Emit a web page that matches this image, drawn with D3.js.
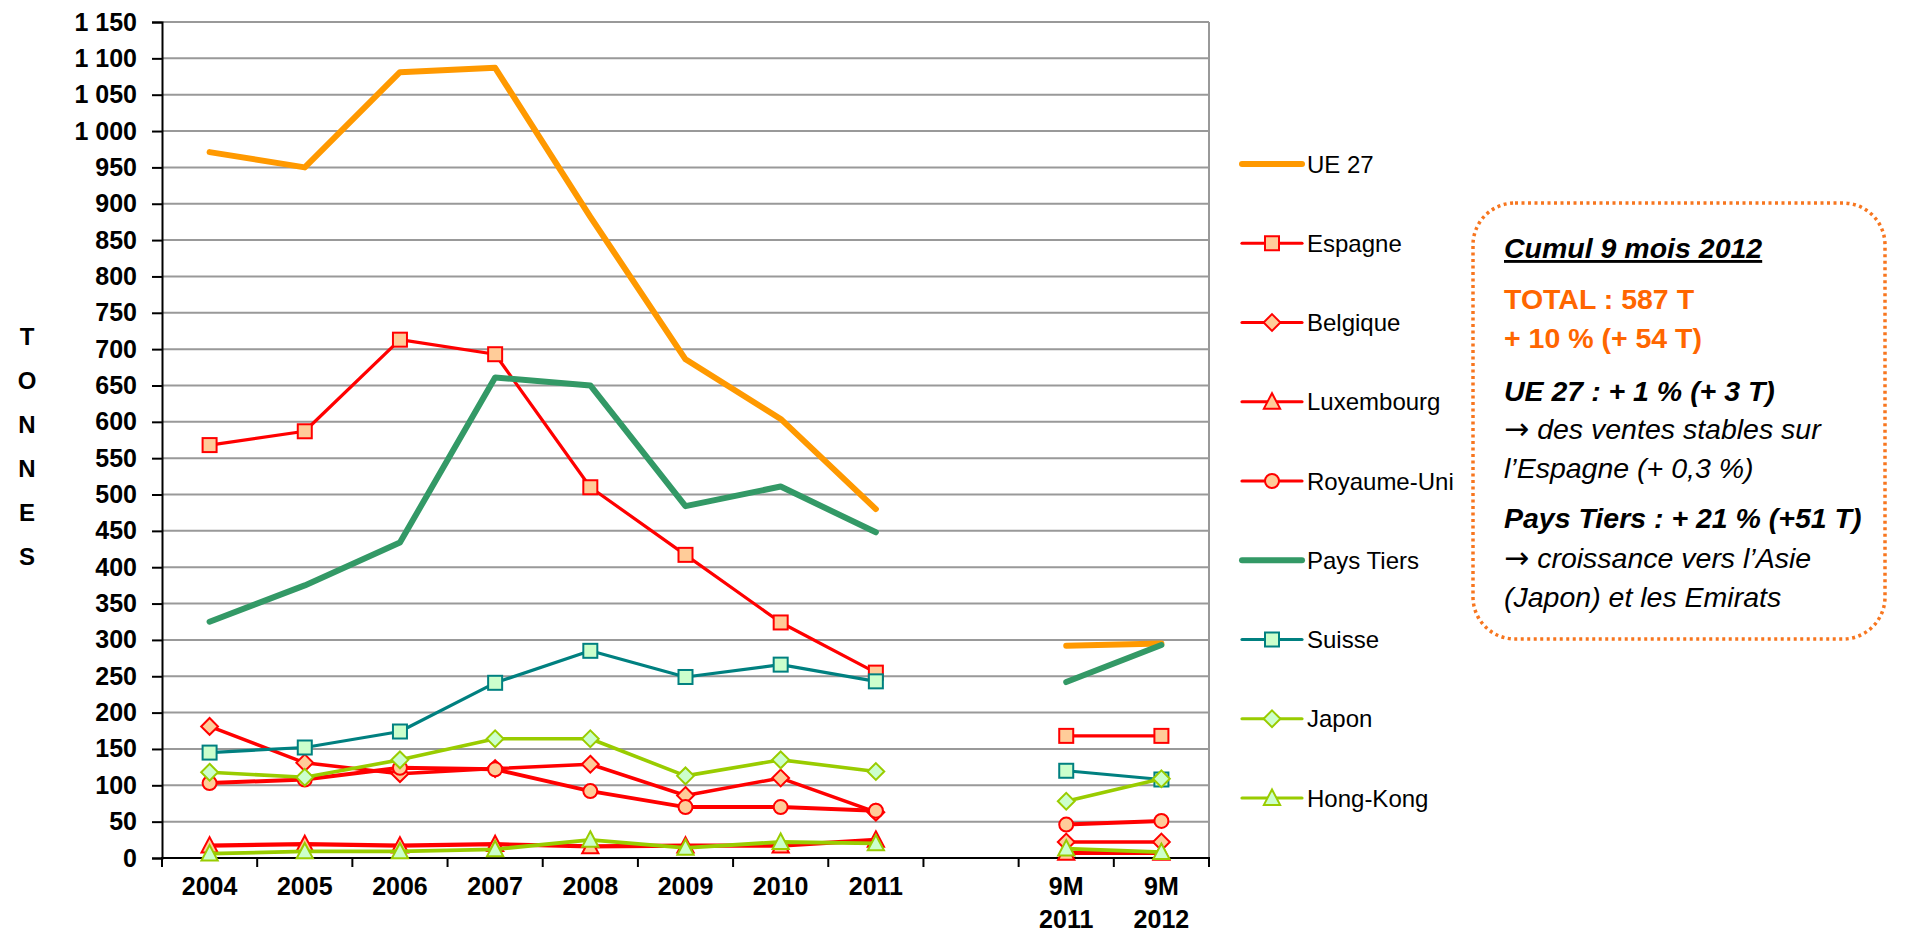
<!DOCTYPE html>
<html>
<head>
<meta charset="utf-8">
<script src="https://cdn.jsdelivr.net/npm/d3@7"></script>
<style>
  body { margin: 0; background: #fff; }
  svg { display: block; font-family: 'Liberation Sans', Arial, sans-serif; }
</style>
</head>
<body>
<div class="chart"></div>
<script>
'use strict'
// categories (the empty one is the gap between 2011 and the 9 month figures)
var categories = ['2004', '2005', '2006', '2007', '2008', '2009', '2010', '2011', '', '9M 2011', '9M 2012']
var yTicks = d3.range(0, 1151, 50)

// tonnes
var ue27 = [971, 950, 1081, 1087, 882, 686, 604, 480, null, 292, 295]
var espagne = [568, 587, 713, 693, 510, 417, 324, 255, null, 168, 168]
var belgique = [181, 131, 116, 123, 129, 86, 110, 63, null, 22, 22]
var luxembourg = [17, 19, 17, 19, 16, 17, 17, 25, null, 7, 7]
var royaumeUni = [103, 108, 124, 122, 92, 70, 70, 65, null, 46, 51]
var paysTiers = [325, 375, 434, 661, 650, 484, 511, 448, null, 242, 293]
var suisse = [145, 152, 174, 241, 285, 249, 266, 243, null, 120, 108]
var japon = [118, 111, 135, 164, 164, 113, 135, 119, null, 78, 109]
var hongKong = [6, 9, 9, 12, 25, 14, 22, 20, null, 13, 8]

// text of the note box; arrow lines get a separate arrow glyph
var noteLines = [
  { text: 'Cumul 9 mois 2012', cls: 'bi u' },
  { text: 'TOTAL : 587 T', cls: 'b o' },
  { text: '+ 10 % (+ 54 T)', cls: 'b o' },
  { text: 'UE 27 : + 1 % (+ 3 T)', cls: 'bi' },
  { text: 'des ventes stables sur', cls: 'i a' },
  { text: 'l\u2019Espagne (+ 0,3 %)', cls: 'i' },
  { text: 'Pays Tiers : + 21 % (+51 T)', cls: 'bi' },
  { text: 'croissance vers l\u2019Asie', cls: 'i a' },
  { text: '(Japon) et les Emirats', cls: 'i' }
]

var RED = '#ff0000'
var PEACH = '#ffcc99'
var MINT = '#ccffcc'
var LIME = '#99cc00'
var series = [
  { name: 'UE 27', values: ue27, color: '#ff9900', width: 6, marker: null },
  { name: 'Espagne', values: espagne, color: RED, width: 3.2, marker: 'square', fill: PEACH },
  { name: 'Belgique', values: belgique, color: RED, width: 3.5, marker: 'diamond', fill: PEACH },
  { name: 'Luxembourg', values: luxembourg, color: RED, width: 4.2, marker: 'triangle', fill: PEACH },
  { name: 'Royaume-Uni', values: royaumeUni, color: RED, width: 4, marker: 'circle', fill: PEACH },
  { name: 'Pays Tiers', values: paysTiers, color: '#339966', width: 6, marker: null },
  { name: 'Suisse', values: suisse, color: '#008080', width: 3.2, marker: 'square', fill: MINT },
  { name: 'Japon', values: japon, color: LIME, width: 3.6, marker: 'diamond', fill: MINT },
  { name: 'Hong-Kong', values: hongKong, color: LIME, width: 3.8, marker: 'triangle', fill: MINT }
]

var width = 1905
var height = 933
var plotLeft = 162
var plotRight = 1209
var plotTop = 22
var plotBottom = 858

var svg = d3.select('.chart').append('svg')
  .attr('width', width)
  .attr('height', height)

var x = d3.scaleBand().domain(d3.range(categories.length)).range([plotLeft, plotRight]).padding(0)
var bw = x.bandwidth()
var cx = function (i) { return x(i) + bw / 2 }
var y = d3.scaleLinear().domain([0, 1150]).range([plotBottom, plotTop])

var fmt = d3.formatLocale({ decimal: ',', thousands: ' ', grouping: [3], currency: ['', ''] }).format(',d')

// gridlines
svg.append('g').selectAll('line')
  .data(yTicks.filter(function (d) { return d > 0 }))
  .enter().append('line')
  .attr('x1', plotLeft).attr('x2', plotRight)
  .attr('y1', function (d) { return y(d) }).attr('y2', function (d) { return y(d) })
  .attr('stroke', '#999').attr('stroke-width', 2)

// right border of plot area
svg.append('line')
  .attr('x1', plotRight).attr('x2', plotRight).attr('y1', plotTop).attr('y2', plotBottom)
  .attr('stroke', '#999').attr('stroke-width', 2)

// y axis
var yAxis = svg.append('g')
  .attr('transform', 'translate(' + plotLeft + ',0)')
  .call(d3.axisLeft(y).tickValues(yTicks).tickSize(10).tickPadding(15).tickFormat(fmt))
yAxis.select('.domain').attr('stroke', '#000').attr('stroke-width', 2)
yAxis.selectAll('.tick line').attr('stroke', '#000').attr('stroke-width', 2)
yAxis.selectAll('.tick text')
  .attr('fill', '#000')
  .style('font-family', "'Liberation Sans', Arial, sans-serif")
  .style('font-size', '25px').style('font-weight', 'bold')

// x axis: line, ticks at band edges, labels centred in the bands
var xAxis = svg.append('g')
xAxis.append('line')
  .attr('x1', plotLeft - 1).attr('x2', plotRight + 1).attr('y1', plotBottom).attr('y2', plotBottom)
  .attr('stroke', '#000').attr('stroke-width', 2)
xAxis.selectAll('.edge')
  .data(d3.range(categories.length + 1))
  .enter().append('line')
  .attr('class', 'edge')
  .attr('x1', function (i) { return plotLeft + i * x.step() })
  .attr('x2', function (i) { return plotLeft + i * x.step() })
  .attr('y1', plotBottom).attr('y2', plotBottom + 9)
  .attr('stroke', '#000').attr('stroke-width', 2)
var xLabels = xAxis.selectAll('.lbl')
  .data(categories)
  .enter().append('text')
  .attr('class', 'lbl')
  .attr('text-anchor', 'middle')
  .attr('y', 895)
  .style('font-size', '25px').style('font-weight', 'bold')
xLabels.each(function (d, i) {
  var t = d3.select(this)
  d.split(' ').forEach(function (part, j) {
    t.append('tspan').attr('x', cx(i)).attr('dy', j === 0 ? 0 : 33).text(part)
  })
})

// vertical axis title
svg.append('g').selectAll('text')
  .data('TONNES'.split(''))
  .enter().append('text')
  .attr('x', 27)
  .attr('y', function (d, i) { return 345 + i * 44 })
  .attr('text-anchor', 'middle')
  .style('font-size', '24px').style('font-weight', 'bold')
  .text(function (d) { return d })

// marker shapes
var drawMarker = function (sel, type, s, fill, color) {
  var p
  if (type === 'square') {
    p = sel.append('rect').attr('x', -s / 2).attr('y', -s / 2).attr('width', s).attr('height', s)
  } else if (type === 'circle') {
    p = sel.append('circle').attr('r', s / 2)
  } else if (type === 'diamond') {
    var h = s * 0.6
    p = sel.append('path').attr('d', 'M0,' + -h + 'L' + h + ',0L0,' + h + 'L' + -h + ',0Z')
  } else if (type === 'triangle') {
    var t = s * 0.58
    p = sel.append('path').attr('d', 'M0,' + (-t * 1.05) + 'L' + t + ',' + t * 0.85 + 'L' + -t + ',' + t * 0.85 + 'Z')
  }
  if (p) p.attr('fill', fill).attr('stroke', color).attr('stroke-width', 2)
}

var line = d3.line()
  .defined(function (d) { return d != null })
  .x(function (d, i) { return cx(i) })
  .y(function (d) { return y(d) })

var plot = svg.append('g')
series.forEach(function (s) {
  var g = plot.append('g')
  g.append('path')
    .attr('d', line(s.values))
    .attr('fill', 'none')
    .attr('stroke', s.color)
    .attr('stroke-width', s.width)
    .attr('stroke-linecap', 'round')
    .attr('stroke-linejoin', 'round')
  if (s.marker) {
    g.selectAll('.m')
      .data(s.values.map(function (v, i) { return { v: v, i: i } }).filter(function (d) { return d.v != null }))
      .enter().append('g')
      .attr('class', 'm')
      .attr('transform', function (d) { return 'translate(' + cx(d.i) + ',' + y(d.v) + ')' })
      .each(function () { drawMarker(d3.select(this), s.marker, 14, s.fill, s.color) })
  }
})

// legend
var legend = svg.append('g').selectAll('g')
  .data(series)
  .enter().append('g')
  .attr('transform', function (d, i) { return 'translate(1242,' + (164 + i * 79.25) + ')' })
legend.append('line')
  .attr('x1', 0).attr('x2', 60)
  .attr('stroke', function (d) { return d.color })
  .attr('stroke-width', function (d) { return d.marker ? 3.2 : 6 })
  .attr('stroke-linecap', 'round')
legend.each(function (d) {
  if (d.marker) {
    var m = d3.select(this).append('g').attr('transform', 'translate(30,0)')
    drawMarker(m, d.marker, 14, d.fill, d.color)
  }
})
legend.append('text')
  .attr('x', 65)
  .attr('dy', '0.36em')
  .style('font-size', '24px')
  .text(function (d) { return d.name })

// note box
var note = svg.append('g')
note.append('rect')
  .attr('x', 1473).attr('y', 203)
  .attr('width', 412).attr('height', 436)
  .attr('rx', 42).attr('ry', 42)
  .attr('fill', 'none')
  .attr('stroke', '#f7761f')
  .attr('stroke-width', 3.5)
  .attr('stroke-dasharray', '3 3.5')
var noteY = [258, 309, 348, 401, 439, 478, 528, 568, 607]
var noteText = note.selectAll('text')
  .data(noteLines)
  .enter().append('text')
  .attr('x', 1504)
  .attr('y', function (d, i) { return noteY[i] })
  .style('font-size', '28.5px')
  .style('font-weight', function (d) { return d.cls.indexOf('b') !== -1 ? 'bold' : 'normal' })
  .style('font-style', function (d) { return d.cls.indexOf('i') !== -1 ? 'italic' : 'normal' })
  .style('text-decoration', function (d) { return d.cls.indexOf('u') !== -1 ? 'underline' : 'none' })
  .attr('fill', function (d) { return d.cls.indexOf('o') !== -1 ? '#ff6600' : '#000' })
noteText.each(function (d) {
  var t = d3.select(this)
  if (d.cls.indexOf('a') !== -1) {
    t.append('tspan')
      .style('font-family', "'DejaVu Sans', sans-serif")
      .style('font-style', 'normal')
      .style('font-size', '30px')
      .text('\u2192')
    t.append('tspan').attr('dx', 8).text(d.text)
  } else {
    t.text(d.text)
  }
})
</script>
</body>
</html>
